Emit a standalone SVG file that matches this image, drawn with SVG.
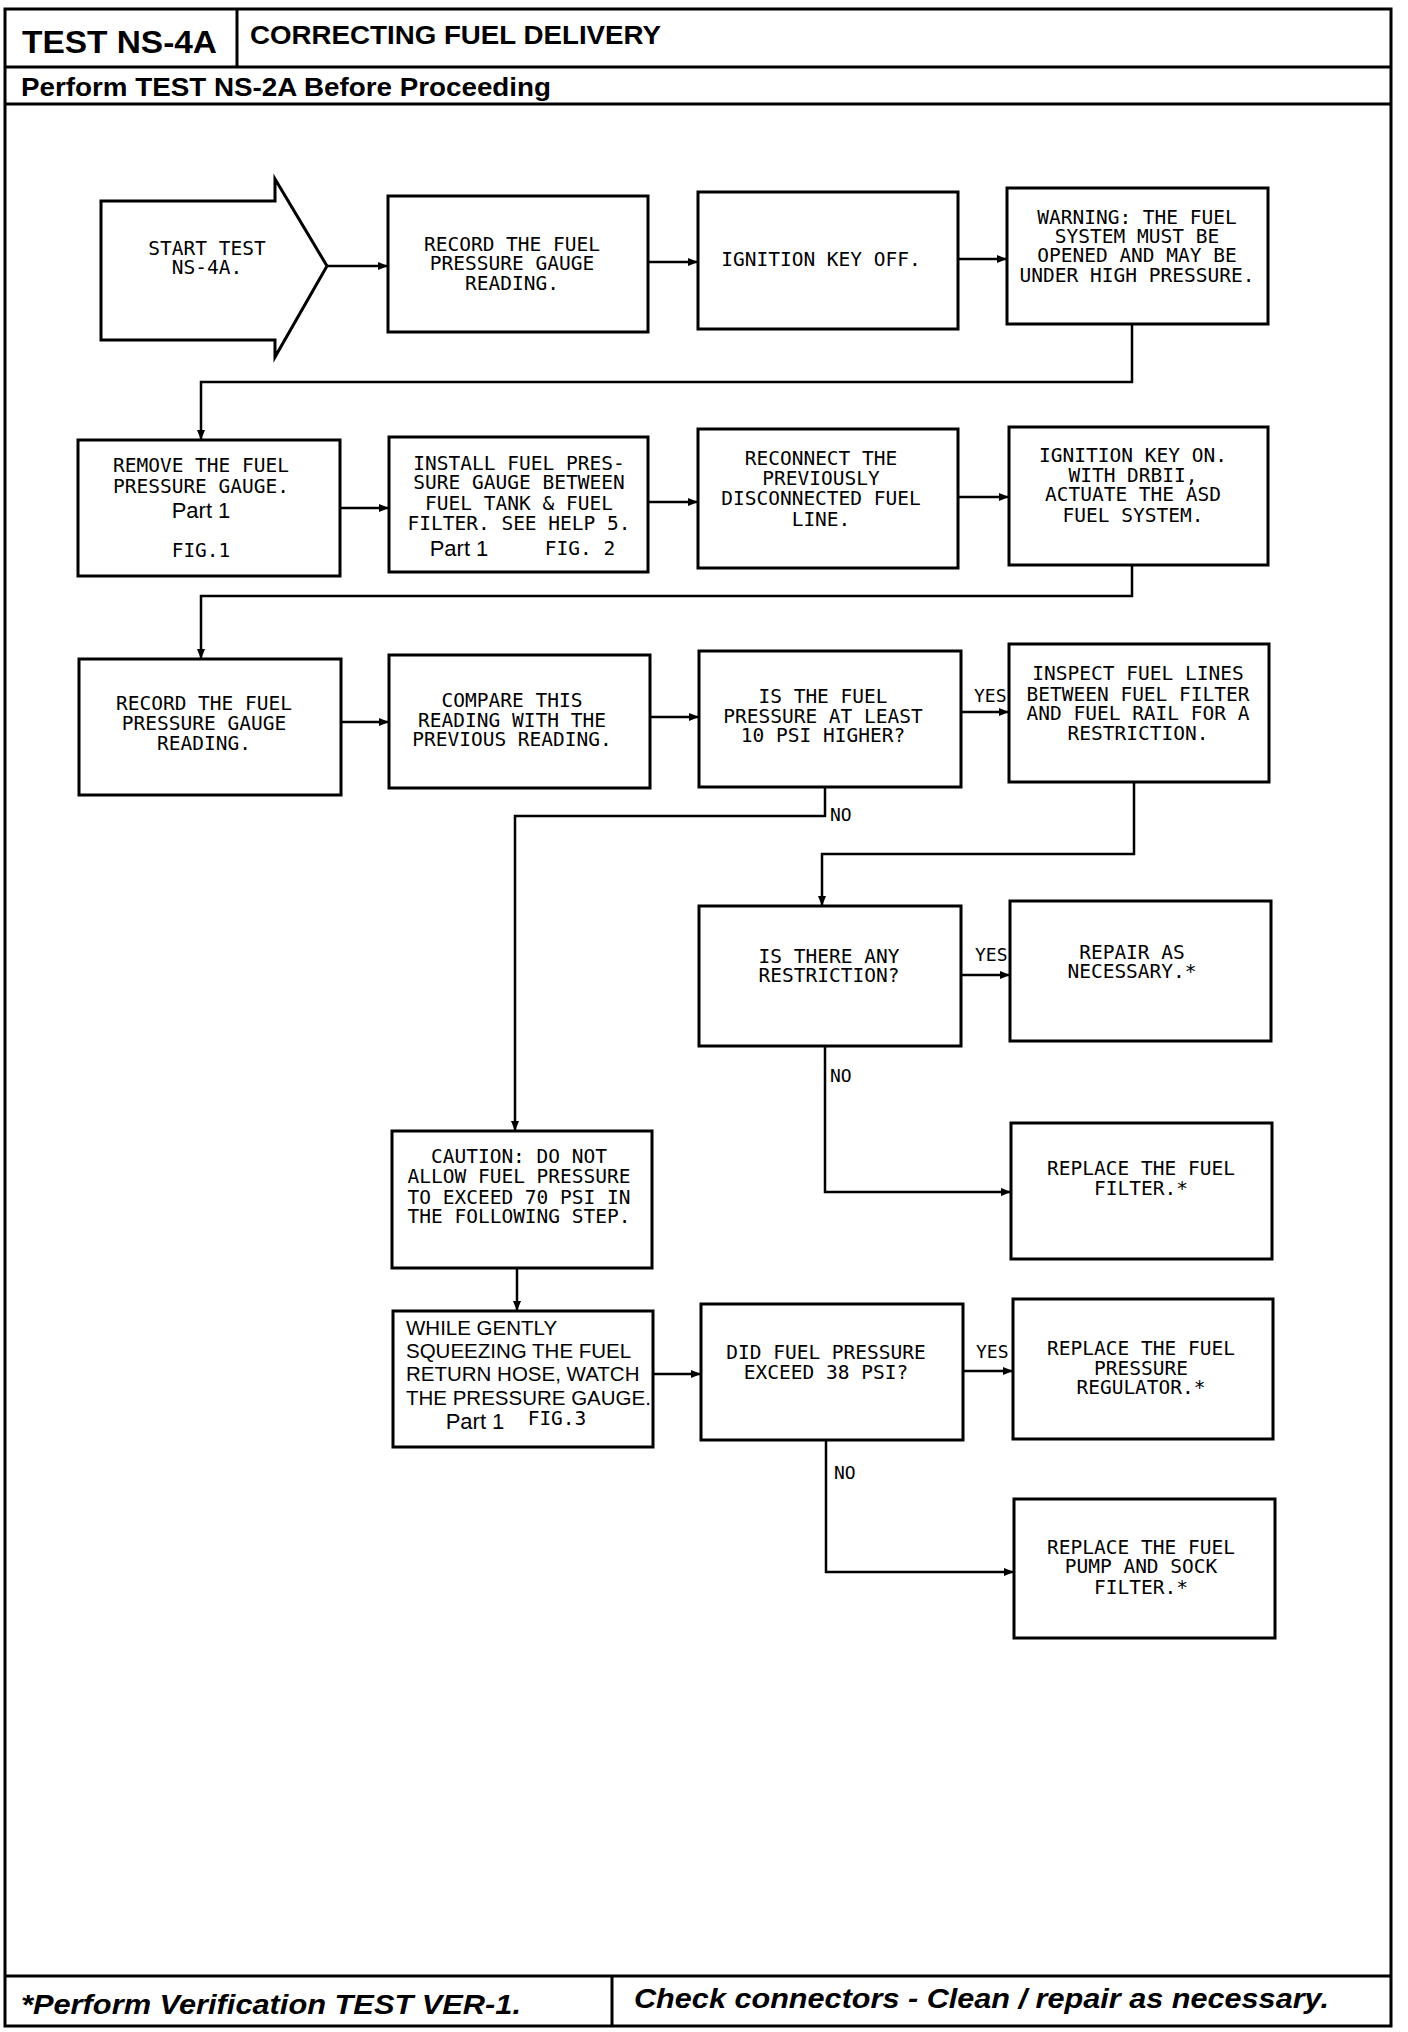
<svg xmlns="http://www.w3.org/2000/svg" width="1408" height="2032" viewBox="0 0 1408 2032">
<defs>
<marker id="ah" viewBox="0 0 10 8" refX="10" refY="4" markerWidth="10" markerHeight="8" markerUnits="userSpaceOnUse" orient="auto">
<path d="M0,0 L10,4 L0,8 Z" fill="#000"/>
</marker>
<style>
.frame{fill:none;stroke:#000;stroke-width:3}
.box{fill:#fff;stroke:#000;stroke-width:3}
.conn{fill:none;stroke:#000;stroke-width:2.5;marker-end:url(#ah)}
.t{font-family:"DejaVu Sans Mono","Liberation Mono",monospace;font-size:19.5px;text-anchor:middle;fill:#000}
.lbl{font-family:"DejaVu Sans Mono","Liberation Mono",monospace;font-size:18px;fill:#000}
.part{font-family:"Liberation Sans",Arial,sans-serif;font-size:22px;text-anchor:middle;fill:#000}
.ws{font-family:"Liberation Sans",Arial,sans-serif;font-size:20.5px;fill:#000}
.hb{font-family:"Liberation Sans",Arial,sans-serif;font-weight:bold;fill:#000}
.fi{font-family:"Liberation Sans",Arial,sans-serif;font-weight:bold;font-style:italic;fill:#000}
</style>
</defs>
<rect width="1408" height="2032" fill="#fff"/>

<g id="frame">
<rect class="frame" x="5" y="9" width="1386" height="2017"/>
<line class="frame" x1="237" y1="9" x2="237" y2="67"/>
<line class="frame" x1="5" y1="67" x2="1391" y2="67"/>
<line class="frame" x1="5" y1="104" x2="1391" y2="104"/>
<line class="frame" x1="5" y1="1976" x2="1391" y2="1976"/>
<line class="frame" x1="612" y1="1976" x2="612" y2="2026"/>
<text class="hb" x="22" y="53" font-size="32" textLength="195" lengthAdjust="spacingAndGlyphs">TEST NS-4A</text>
<text class="hb" x="250" y="44" font-size="26" textLength="411" lengthAdjust="spacingAndGlyphs">CORRECTING FUEL DELIVERY</text>
<text class="hb" x="21" y="96" font-size="25" textLength="530" lengthAdjust="spacingAndGlyphs">Perform TEST NS-2A Before Proceeding</text>
<text class="fi" x="21" y="2014" font-size="28" textLength="500" lengthAdjust="spacingAndGlyphs">*Perform Verification TEST VER-1.</text>
<text class="fi" x="634" y="2008" font-size="28" textLength="695" lengthAdjust="spacingAndGlyphs">Check connectors - Clean / repair as necessary.</text>
</g>

<g id="connectors">
<path class="conn" d="M327,266 H388"/>
<path class="conn" d="M648,262 H698"/>
<path class="conn" d="M958,259 H1007"/>
<path class="conn" d="M1132,324 V382 H201 V440"/>
<path class="conn" d="M340,508 H389"/>
<path class="conn" d="M648,502 H698"/>
<path class="conn" d="M958,497 H1009"/>
<path class="conn" d="M1132,565 V596 H201 V659"/>
<path class="conn" d="M341,722 H389"/>
<path class="conn" d="M650,717 H699"/>
<path class="conn" d="M961,712 H1009"/>
<path class="conn" d="M825,787 V816 H515 V1131"/>
<path class="conn" d="M1134,782 V854 H822 V906"/>
<path class="conn" d="M961,975 H1010"/>
<path class="conn" d="M825,1046 V1192 H1011"/>
<path class="conn" d="M517,1268 V1311"/>
<path class="conn" d="M653,1374 H701"/>
<path class="conn" d="M963,1371 H1013"/>
<path class="conn" d="M826,1440 V1572 H1014"/>
<text class="lbl" x="974" y="702">YES</text>
<text class="lbl" x="830" y="821">NO</text>
<text class="lbl" x="975" y="961">YES</text>
<text class="lbl" x="830" y="1082">NO</text>
<text class="lbl" x="976" y="1358">YES</text>
<text class="lbl" x="834" y="1479">NO</text>
</g>

<g id="start">
<polygon class="box" points="101,201 275,201 275,179 327,266 275,357 275,340 101,340"/>
<text class="t" x="207" y="255">START TEST</text>
<text class="t" x="207" y="274">NS-4A.</text>
</g>

<g id="record1">
<rect class="box" x="388" y="196" width="260" height="136"/>
<text class="t" x="512" y="251">RECORD THE FUEL</text>
<text class="t" x="512" y="270">PRESSURE GAUGE</text>
<text class="t" x="512" y="290">READING.</text>
</g>

<g id="ignoff">
<rect class="box" x="698" y="192" width="260" height="137"/>
<text class="t" x="821" y="266">IGNITION KEY OFF.</text>
</g>

<g id="warning">
<rect class="box" x="1007" y="188" width="261" height="136"/>
<text class="t" x="1137" y="224">WARNING: THE FUEL</text>
<text class="t" x="1137" y="243">SYSTEM MUST BE</text>
<text class="t" x="1137" y="262">OPENED AND MAY BE</text>
<text class="t" x="1137" y="282">UNDER HIGH PRESSURE.</text>
</g>

<g id="remove">
<rect class="box" x="78" y="440" width="262" height="136"/>
<text class="t" x="201" y="472">REMOVE THE FUEL</text>
<text class="t" x="201" y="493">PRESSURE GAUGE.</text>
<text class="part" x="201" y="518">Part 1</text>
<text class="t" x="201" y="557">FIG.1</text>
</g>

<g id="install">
<rect class="box" x="389" y="437" width="259" height="135"/>
<text class="t" x="519" y="470">INSTALL FUEL PRES-</text>
<text class="t" x="519" y="489">SURE GAUGE BETWEEN</text>
<text class="t" x="519" y="510">FUEL TANK &amp; FUEL</text>
<text class="t" x="519" y="530">FILTER. SEE HELP 5.</text>
<text class="part" x="459" y="556">Part 1</text>
<text class="t" x="580" y="555">FIG. 2</text>
</g>

<g id="reconnect">
<rect class="box" x="698" y="429" width="260" height="139"/>
<text class="t" x="821" y="465">RECONNECT THE</text>
<text class="t" x="821" y="485">PREVIOUSLY</text>
<text class="t" x="821" y="505">DISCONNECTED FUEL</text>
<text class="t" x="821" y="526">LINE.</text>
</g>

<g id="ignon">
<rect class="box" x="1009" y="427" width="259" height="138"/>
<text class="t" x="1133" y="462">IGNITION KEY ON.</text>
<text class="t" x="1133" y="482">WITH DRBII,</text>
<text class="t" x="1133" y="501">ACTUATE THE ASD</text>
<text class="t" x="1133" y="522">FUEL SYSTEM.</text>
</g>

<g id="record2">
<rect class="box" x="79" y="659" width="262" height="136"/>
<text class="t" x="204" y="710">RECORD THE FUEL</text>
<text class="t" x="204" y="730">PRESSURE GAUGE</text>
<text class="t" x="204" y="750">READING.</text>
</g>

<g id="compare">
<rect class="box" x="389" y="655" width="261" height="133"/>
<text class="t" x="512" y="707">COMPARE THIS</text>
<text class="t" x="512" y="727">READING WITH THE</text>
<text class="t" x="512" y="746">PREVIOUS READING.</text>
</g>

<g id="decision1">
<rect class="box" x="699" y="651" width="262" height="136"/>
<text class="t" x="823" y="703">IS THE FUEL</text>
<text class="t" x="823" y="723">PRESSURE AT LEAST</text>
<text class="t" x="823" y="742">10 PSI HIGHER?</text>
</g>

<g id="inspect">
<rect class="box" x="1009" y="644" width="260" height="138"/>
<text class="t" x="1138" y="680">INSPECT FUEL LINES</text>
<text class="t" x="1138" y="701">BETWEEN FUEL FILTER</text>
<text class="t" x="1138" y="720">AND FUEL RAIL FOR A</text>
<text class="t" x="1138" y="740">RESTRICTION.</text>
</g>

<g id="decision2">
<rect class="box" x="699" y="906" width="262" height="140"/>
<text class="t" x="829" y="963">IS THERE ANY</text>
<text class="t" x="829" y="982">RESTRICTION?</text>
</g>

<g id="repair">
<rect class="box" x="1010" y="901" width="261" height="140"/>
<text class="t" x="1132" y="959">REPAIR AS</text>
<text class="t" x="1132" y="978">NECESSARY.*</text>
</g>

<g id="replacefilter">
<rect class="box" x="1011" y="1123" width="261" height="136"/>
<text class="t" x="1141" y="1175">REPLACE THE FUEL</text>
<text class="t" x="1141" y="1195">FILTER.*</text>
</g>

<g id="caution">
<rect class="box" x="392" y="1131" width="260" height="137"/>
<text class="t" x="519" y="1163">CAUTION: DO NOT</text>
<text class="t" x="519" y="1183">ALLOW FUEL PRESSURE</text>
<text class="t" x="519" y="1204">TO EXCEED 70 PSI IN</text>
<text class="t" x="519" y="1223">THE FOLLOWING STEP.</text>
</g>

<g id="squeeze">
<rect class="box" x="393" y="1311" width="260" height="136"/>
<text class="ws" x="406" y="1335">WHILE GENTLY</text>
<text class="ws" x="406" y="1358">SQUEEZING THE FUEL</text>
<text class="ws" x="406" y="1381">RETURN HOSE, WATCH</text>
<text class="ws" x="406" y="1405">THE PRESSURE GAUGE.</text>
<text class="part" x="475" y="1429">Part 1</text>
<text class="t" x="557" y="1425">FIG.3</text>
</g>

<g id="decision3">
<rect class="box" x="701" y="1304" width="262" height="136"/>
<text class="t" x="826" y="1359">DID FUEL PRESSURE</text>
<text class="t" x="826" y="1379">EXCEED 38 PSI?</text>
</g>

<g id="replaceregulator">
<rect class="box" x="1013" y="1299" width="260" height="140"/>
<text class="t" x="1141" y="1355">REPLACE THE FUEL</text>
<text class="t" x="1141" y="1375">PRESSURE</text>
<text class="t" x="1141" y="1394">REGULATOR.*</text>
</g>

<g id="replacepump">
<rect class="box" x="1014" y="1499" width="261" height="139"/>
<text class="t" x="1141" y="1554">REPLACE THE FUEL</text>
<text class="t" x="1141" y="1573">PUMP AND SOCK</text>
<text class="t" x="1141" y="1594">FILTER.*</text>
</g>
</svg>
